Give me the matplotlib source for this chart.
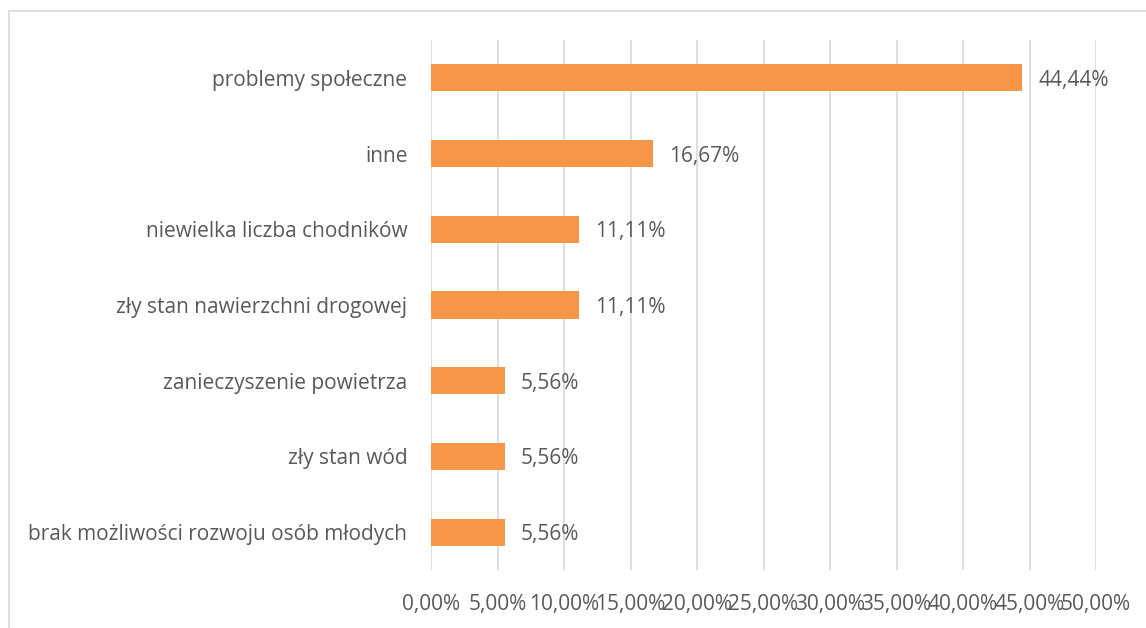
import matplotlib
matplotlib.use("Agg")
import matplotlib.pyplot as plt
from matplotlib.patches import Rectangle

categories = ["problemy społeczne", "inne", "niewielka liczba chodników",
              "zły stan nawierzchni drogowej", "zanieczyszenie powietrza",
              "zły stan wód", "brak możliwości rozwoju osób młodych"]
values = [44.44, 16.67, 11.11, 11.11, 5.56, 5.56, 5.56]
ticks = [0, 5, 10, 15, 20, 25, 30, 35, 40, 45, 50]

plt.rcParams['font.family'] = ['Open Sans', 'DejaVu Sans']
TXT = "#595959"
BAR = "#F79646"
FS = 15

W, H = 1146, 628
fig = plt.figure(figsize=(W/100, H/100), dpi=100)
fig.patches.append(Rectangle((9/W, -0.1), 1.2, 1.1 - 11/H, transform=fig.transFigure,
                             fill=False, edgecolor="#D9D9D9", linewidth=1.2))
ax = fig.add_axes([431/W, 1 - 570/H, (1096-431)/W, (570-40)/H])

y = list(range(len(categories)))
ax.barh(y, values, height=0.36, color=BAR)
ax.set_ylim(len(categories) - 0.5, -0.5)
ax.set_xlim(0, 50)
ax.set_xticks(ticks)
ax.set_xticklabels([f"{t:.2f}%".replace(".", ",") for t in ticks], fontsize=FS, color=TXT)
ax.set_yticks(y)
ax.set_yticklabels(categories, fontsize=FS, color=TXT)
ax.tick_params(axis='both', length=0)
ax.tick_params(axis='x', pad=17)
ax.tick_params(axis='y', pad=17)
ax.grid(axis='x', color="#D9D9D9", linewidth=1.2)
ax.set_axisbelow(True)
for s in ax.spines.values():
    s.set_visible(False)
for yi, v in zip(y, values):
    ax.text(v + 1.2, yi, f"{v:.2f}%".replace(".", ","), va='center_baseline', ha='left',
            fontsize=FS, color=TXT)

fig.savefig("out.png", dpi=100)
